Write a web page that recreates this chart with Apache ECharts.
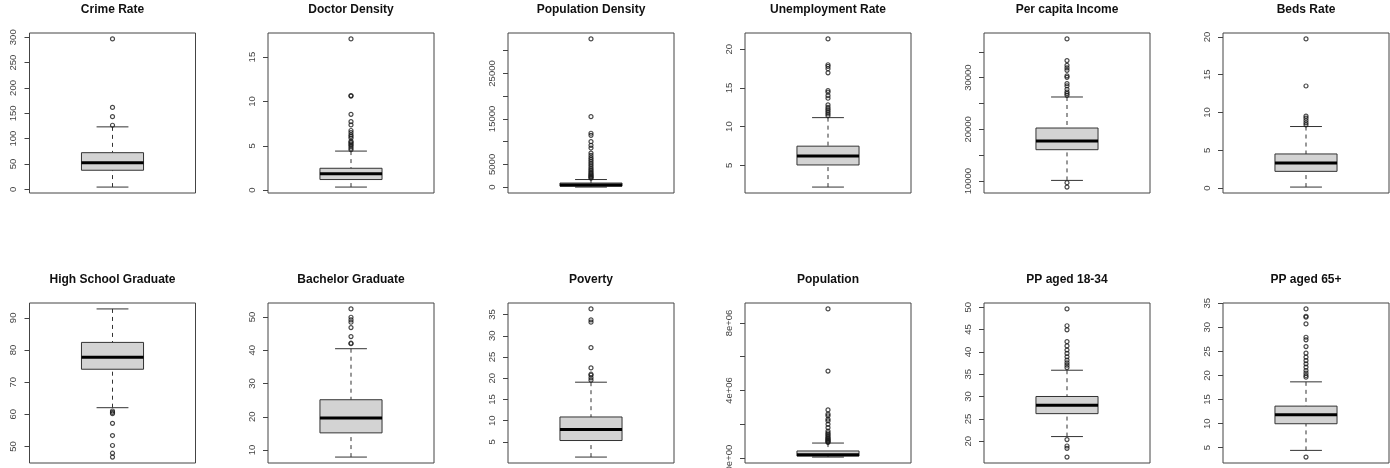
<!DOCTYPE html>
<html>
<head>
<meta charset="utf-8">
<script src="https://cdn.jsdelivr.net/npm/echarts@6/dist/echarts.min.js"></script>
<style>
  html, body { margin: 0; padding: 0; background: #fff; }
  #chart { width: 1390px; height: 468px; }
</style>
</head>
<body>
<div id="chart"></div>
<script>
// Panel titles, in reading order (two rows of six)
const titles = [
  'Crime Rate', 'Doctor Density', 'Population Density', 'Unemployment Rate', 'Per capita Income', 'Beds Rate',
  'High School Graduate', 'Bachelor Graduate', 'Poverty', 'Population', 'PP aged 18-34', 'PP aged 65+'
];

// Five-number summaries: [lower whisker, Q1, median, Q3, upper whisker]
const crimeRate      = [4.6, 37.8, 52.8, 72.4, 123.3];
const doctorDensity  = [0.34, 1.19, 1.83, 2.46, 4.40];
const popDensity     = [13, 220, 460, 900, 1670];
const unemployment   = [2.18, 5.04, 6.21, 7.47, 11.16];
const incomePC       = [10129, 16065, 17742, 20258, 26258];
const bedsRate       = [0.13, 2.21, 3.32, 4.51, 8.14];
const highSchool     = [62.06, 74.02, 77.73, 82.37, 92.78];
const bachelor       = [7.9, 15.17, 19.65, 25.12, 40.45];
const poverty        = [1.41, 5.31, 7.89, 10.86, 19.06];
const population     = [59000, 120000, 200000, 420000, 889000];
const aged18to34     = [21.05, 26.18, 28.06, 30.02, 35.9];
const aged65plus     = [4.45, 9.98, 11.84, 13.64, 18.68];

// Points beyond the whiskers
const crimeRateOut     = [126.5, 143.5, 161.7, 296.7];
const doctorDensityOut = [4.55, 4.72, 4.93, 5.08, 5.22, 5.38, 5.49, 5.86, 6.05, 6.23, 6.49, 6.72, 7.35, 7.72, 8.54, 10.6, 10.66, 17.05];
const popDensityOut    = [1950, 2100, 2300, 2500, 2700, 2950, 3200, 3500, 3800, 4100, 4500, 4900, 5300, 5700, 6100, 6500, 7000, 7500, 8600, 9200, 10000, 11400, 11850, 15500, 32600];
const unemploymentOut  = [11.4, 11.63, 11.85, 12.07, 12.28, 12.5, 12.8, 13.67, 14.0, 14.45, 14.67, 16.96, 17.48, 17.79, 18.0, 21.34];
const incomePCOut      = [9677, 8839, 26580, 26900, 27226, 27742, 28387, 28839, 30065, 30323, 31419, 31871, 32387, 33290, 37484];
const bedsRateOut      = [8.36, 8.63, 8.94, 9.25, 9.51, 13.5, 19.73];
const highSchoolOut    = [61.03, 60.6, 60.2, 57.2, 53.4, 50.3, 47.9, 46.7];
const bachelorOut      = [41.94, 42.1, 44.1, 46.8, 48.4, 49.1, 49.9, 52.4];
const povertyOut       = [19.53, 20.08, 20.7, 20.94, 22.42, 27.19, 33.2, 33.75, 36.33];
const populationOut    = [920000, 960000, 1000000, 1050000, 1100000, 1150000, 1200000, 1270000, 1350000, 1420000, 1500000, 1600000, 1800000, 2000000, 2200000, 2300000, 2500000, 2600000, 2850000, 5150000, 8830000];
const aged18to34Out    = [20.38, 18.94, 18.42, 16.46, 36.5, 37.03, 37.56, 38.16, 38.9, 39.67, 40.42, 41.33, 42.3, 44.94, 45.85, 49.62];
const aged65plusOut    = [3.06, 19.65, 20.0, 20.48, 21.03, 21.72, 22.42, 23.1, 23.8, 24.63, 26.0, 27.4, 27.94, 30.7, 32.1, 32.3, 33.82];

// Axis tick positions and the subset that carries a label
const crimeTicks   = [0, 50, 100, 150, 200, 250, 300];
const doctorTicks  = [0, 5, 10, 15];
const popDenTicks  = [0, 5000, 10000, 15000, 20000, 25000, 30000];
const popDenLabels = [0, 5000, 15000, 25000];
const unempTicks   = [5, 10, 15, 20];
const incomeTicks  = [10000, 15000, 20000, 25000, 30000, 35000];
const incomeLabels = [10000, 20000, 30000];
const bedsTicks    = [0, 5, 10, 15, 20];
const hsTicks      = [50, 60, 70, 80, 90];
const bachTicks    = [10, 20, 30, 40, 50];
const povTicks     = [5, 10, 15, 20, 25, 30, 35];
const popTicks     = [0, 2000000, 4000000, 6000000, 8000000];
const popLabels    = [0, 4000000, 8000000];
const popLabelText = ['0e+00', '4e+06', '8e+06'];
const age1Ticks    = [20, 25, 30, 35, 40, 45, 50];
const age2Ticks    = [5, 10, 15, 20, 25, 30, 35];

const panels = [
  { stats: crimeRate,     out: crimeRateOut,     ticks: crimeTicks },
  { stats: doctorDensity, out: doctorDensityOut, ticks: doctorTicks },
  { stats: popDensity,    out: popDensityOut,    ticks: popDenTicks, labels: popDenLabels },
  { stats: unemployment,  out: unemploymentOut,  ticks: unempTicks },
  { stats: incomePC,      out: incomePCOut,      ticks: incomeTicks, labels: incomeLabels },
  { stats: bedsRate,      out: bedsRateOut,      ticks: bedsTicks },
  { stats: highSchool,    out: highSchoolOut,    ticks: hsTicks },
  { stats: bachelor,      out: bachelorOut,      ticks: bachTicks },
  { stats: poverty,       out: povertyOut,       ticks: povTicks },
  { stats: population,    out: populationOut,    ticks: popTicks, labels: popLabels, text: popLabelText },
  { stats: aged18to34,    out: aged18to34Out,    ticks: age1Ticks },
  { stats: aged65plus,    out: aged65plusOut,    ticks: age2Ticks }
];

// Plot-region layout
const colLeft = [29.5, 268, 508, 745, 984, 1223];
const rowTop = [33, 303];
const plotW = 166, plotH = 160;
const titleY = [9.5, 280];

const BOX_HALF = 0.187;   // half box width in x units (x axis spans 0..1)
const CAP_HALF = 0.096;   // half whisker-cap width
const FONT = '"Liberation Sans", Arial, Helvetica, sans-serif';

function renderBox(params, api) {
  const lo = api.value(0), q1 = api.value(1), med = api.value(2), q3 = api.value(3), hi = api.value(4);
  const px = x => api.coord([x, lo])[0];
  const py = v => api.coord([0.5, v])[1];
  const xc = px(0.5), xl = px(0.5 - BOX_HALF), xr = px(0.5 + BOX_HALF);
  const cl = px(0.5 - CAP_HALF), cr = px(0.5 + CAP_HALF);
  const dash = { stroke: '#333', lineWidth: 1, lineDash: [4, 4] };
  const solid = { stroke: '#333', lineWidth: 1 };
  return {
    type: 'group',
    children: [
      { type: 'line', shape: { x1: xc, y1: py(hi), x2: xc, y2: py(q3) }, style: dash },
      { type: 'line', shape: { x1: xc, y1: py(lo), x2: xc, y2: py(q1) }, style: dash },
      { type: 'line', shape: { x1: cl, y1: py(hi), x2: cr, y2: py(hi) }, style: solid },
      { type: 'line', shape: { x1: cl, y1: py(lo), x2: cr, y2: py(lo) }, style: solid },
      { type: 'rect', shape: { x: xl, y: py(q3), width: xr - xl, height: py(q1) - py(q3) },
        style: { fill: '#d3d3d3', stroke: '#333', lineWidth: 1 } },
      { type: 'line', shape: { x1: xl, y1: py(med), x2: xr, y2: py(med) },
        style: { stroke: '#000', lineWidth: 3 } }
    ]
  };
}

const grid = [], xAxis = [], yAxis = [], series = [], graphic = [];

panels.forEach((p, i) => {
  const r = Math.floor(i / 6), c = i % 6;
  grid.push({ left: colLeft[c], top: rowTop[r], width: plotW, height: plotH,
              outerBoundsMode: 'none', containLabel: false,
              show: true, borderColor: '#444', borderWidth: 1, backgroundColor: 'transparent' });

  // R-style range: data extent padded by 4% on each side
  const all = p.stats.concat(p.out);
  const lo = Math.min(...all), hi = Math.max(...all);
  const pad = (hi - lo) * 0.04;

  xAxis.push({ gridIndex: i, type: 'value', min: 0, max: 1, show: false });
  const labelVals = p.labels || p.ticks;
  yAxis.push({
    gridIndex: i, type: 'value', min: lo - pad, max: hi + pad,
    splitLine: { show: false },
    axisLine: { show: false },
    axisTick: { show: true, inside: false, length: 5, customValues: p.ticks,
                lineStyle: { color: '#444', width: 1 } },
    axisLabel: {
      show: true, rotate: 90, margin: 11, customValues: labelVals,
      color: '#444', fontSize: 9.5, fontFamily: FONT, hideOverlap: false,
      formatter: v => {
        if (p.text) {
          const k = p.labels.indexOf(v);
          return k >= 0 ? p.text[k] : '';
        }
        return String(v);
      }
    }
  });

  series.push({
    type: 'custom', xAxisIndex: i, yAxisIndex: i,
    renderItem: renderBox, data: [p.stats], silent: true, clip: false
  });
  series.push({
    type: 'scatter', xAxisIndex: i, yAxisIndex: i,
    symbol: 'circle', symbolSize: 4, silent: true,
    itemStyle: { color: 'transparent', borderColor: '#1a1a1a', borderWidth: 1.2 },
    data: p.out.map(v => [0.5, v])
  });

  graphic.push({
    type: 'text', x: colLeft[c] + plotW / 2, y: titleY[r],
    style: { text: titles[i], font: 'bold 12px ' + FONT, fill: '#111',
             textAlign: 'center', textVerticalAlign: 'middle' }
  });
});

const chart = echarts.init(document.getElementById('chart'), null, { renderer: 'canvas' });
chart.setOption({ animation: false, grid, xAxis, yAxis, series, graphic });
</script>
</body>
</html>
